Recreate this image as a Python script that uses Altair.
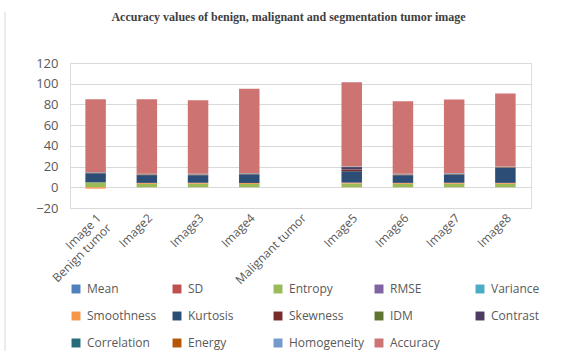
import altair as alt
import pandas as pd

# Category axis: one empty slot separates benign and malignant groups
categories = ["Image 1|Benign tumor", "Image2", "Image3", "Image4", "Malignant tumor",
              "Image5", "Image6", "Image7", "Image8"]
images = ["Image 1|Benign tumor", "Image2", "Image3", "Image4",
          "Image5", "Image6", "Image7", "Image8"]

features = ["Mean", "SD", "Entropy", "RMSE", "Variance", "Smoothness", "Kurtosis",
            "Skewness", "IDM", "Contrast", "Correlation", "Energy", "Homogeneity", "Accuracy"]
palette = ["#4F81BD", "#C0504D", "#9BBB59", "#8064A2", "#4BACC6", "#F79646",
           "#2C4D75", "#772C2A", "#5F7530", "#4D3B62", "#276A7C", "#B65708",
           "#729ACA", "#CD7371"]

# Feature values per image (Image 1 .. Image8)
mean = [0.004, 0.003, 0.003, 0.004, 0.005, 0.003, 0.003, 0.004]
sd = [0.08, 0.07, 0.07, 0.08, 0.09, 0.07, 0.07, 0.08]
entropy = [4.6, 3.2, 3.3, 3.1, 3.4, 3.2, 3.3, 3.2]
rmse = [0.08, 0.07, 0.07, 0.08, 0.09, 0.07, 0.07, 0.08]
variance = [0.006, 0.005, 0.005, 0.006, 0.008, 0.005, 0.005, 0.006]
smoothness = [-1.3, 0.9, 0.9, 0.9, 0.9, 0.9, 0.9, 0.9]
kurtosis = [8.7, 7.5, 7.3, 8.3, 11.0, 7.4, 8.0, 14.4]
skewness = [0.3, 0.3, 0.3, 0.3, 1.5, 0.3, 0.3, 0.3]
idm = [0.2, 0.2, 0.2, 0.2, 0.2, 0.2, 0.2, 0.2]
contrast = [0.15, 0.15, 0.15, 0.15, 2.3, 0.15, 0.15, 0.15]
correlation = [0.1, 0.1, 0.1, 0.1, 0.1, 0.1, 0.1, 0.1]
energy = [0.2, 0.2, 0.2, 0.2, 0.2, 0.2, 0.2, 0.2]
homogeneity = [0.4, 0.4, 0.4, 0.4, 0.4, 0.4, 0.4, 0.4]
accuracy = [70.1, 71.8, 71.0, 81.2, 81.3, 70.0, 71.0, 70.5]

series = [mean, sd, entropy, rmse, variance, smoothness, kurtosis, skewness,
          idm, contrast, correlation, energy, homogeneity, accuracy]

rows = []
for k, (name, vals) in enumerate(zip(features, series)):
    for img, v in zip(images, vals):
        rows.append({"image": img, "feature": name, "value": v, "order": k})
df = pd.DataFrame(rows)

bars = alt.Chart(df).mark_bar().encode(
    x=alt.X("image:N", sort=categories,
            scale=alt.Scale(domain=categories, paddingInner=0.6, paddingOuter=0.3),
            axis=alt.Axis(title=None, labelAngle=-45, labelExpr="split(datum.label, '|')",
                          labelFontSize=12, labelColor="#595959", labelFont="Open Sans",
                          domain=False, ticks=False, grid=False, labelPadding=4,
                          labelLineHeight=14)),
    y=alt.Y("value:Q", stack="zero",
            scale=alt.Scale(domain=[-20, 120], nice=False),
            axis=alt.Axis(title=None, values=[-20, 0, 20, 40, 60, 80, 100, 120],
                          labelFontSize=13, labelColor="#595959", labelFont="Open Sans",
                          domain=False, ticks=False, gridColor="#d9d9d9",
                          labelPadding=12)),
    color=alt.Color("feature:N", sort=features,
                    scale=alt.Scale(domain=features, range=palette),
                    legend=alt.Legend(title=None, orient="none", legendX=0, legendY=220,
                                      columns=5, direction="horizontal",
                                      symbolType="square", symbolSize=80,
                                      symbolStrokeWidth=0, labelFontSize=12,
                                      labelFont="Open Sans", labelColor="#595959",
                                      columnPadding=8, rowPadding=15,
                                      gridAlign="all", labelOffset=5)),
    order=alt.Order("order:Q", sort="ascending"),
)

# Light frame line down the left side of the chart
edge = alt.Chart(pd.DataFrame({"edge": [0]})).mark_rule(color="#d9d9d9").encode(
    x=alt.value(-65), y=alt.value(-51), y2=alt.value(300)
)

chart = alt.layer(edge, bars).properties(
    width=461,
    height=145,
    autosize=alt.AutoSizeParams(type="none"),
    padding={"left": 70, "top": 63, "right": 41, "bottom": 143},
    title=alt.TitleParams("Accuracy values of benign, malignant and segmentation tumor image",
                          font="Liberation Serif", fontSize=12, fontWeight="bold",
                          color="#404040", anchor="middle", frame="group", dx=-12,
                          offset=-21, baseline="alphabetic"),
).configure_view(stroke=None).configure(background="white")

chart.save("out.html", embed_options={"renderer": "svg", "actions": False})
